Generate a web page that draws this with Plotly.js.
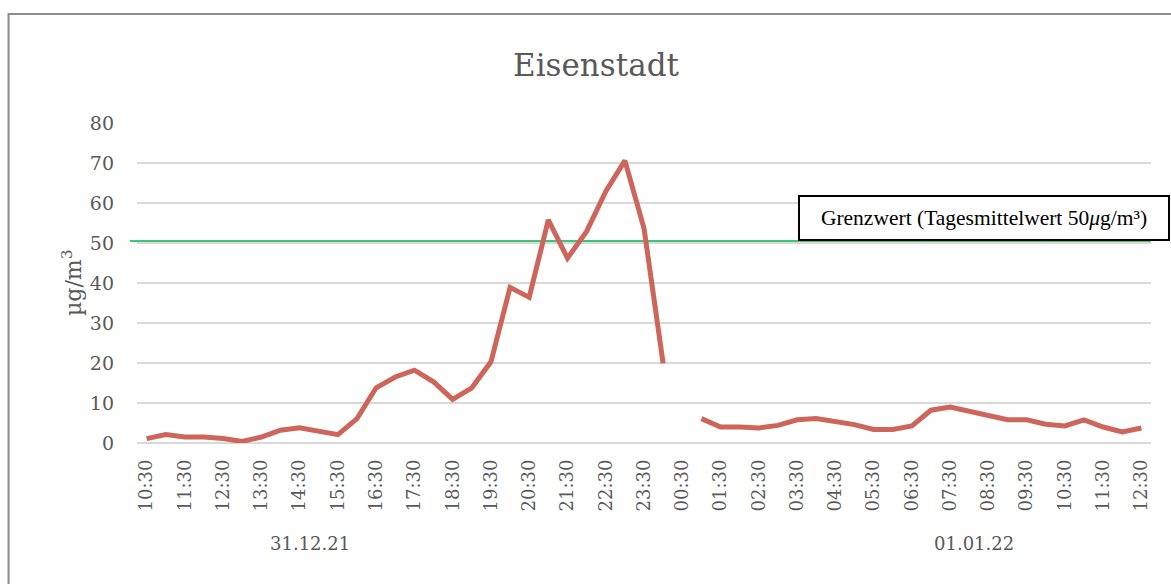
<!DOCTYPE html>
<html>
<head>
<meta charset="utf-8">
<script src="https://cdn.plot.ly/plotly-3.0.1.min.js"></script>
<style>
  html, body { margin: 0; padding: 0; background: #fff; }
  #chart { width: 1171px; height: 584px; }
</style>
</head>
<body>
<div id="chart"></div>
<script>
// Halbstundenwerte Feinstaub Eisenstadt, 31.12.21 10:30 bis 01.01.22 12:30
var zeiten = ['10:30','11:00','11:30','12:00','12:30','13:00','13:30','14:00','14:30','15:00',
              '15:30','16:00','16:30','17:00','17:30','18:00','18:30','19:00','19:30','20:00',
              '20:30','21:00','21:30','22:00','22:30','23:00','23:30','00:00','00:30','01:00',
              '01:30','02:00','02:30','03:00','03:30','04:00','04:30','05:00','05:30','06:00',
              '06:30','07:00','07:30','08:00','08:30','09:00','09:30','10:00','10:30','11:00',
              '11:30','12:00','12:30']
var werte = [1.1, 2.1, 1.5, 1.5, 1.1, 0.4, 1.5, 3.2, 3.8, 3.0,
             2.1, 6.1, 13.8, 16.5, 18.2, 15.3, 10.9, 13.8, 20.3, 38.9,
             36.4, 55.8, 46.2, 52.9, 62.9, 70.6, 53.7, 19.9, null, 6.1,
             4.0, 4.0, 3.75, 4.4, 5.8, 6.1, 5.25, 4.6, 3.4, 3.4,
             4.25, 8.2, 9.0, 7.9, 6.7, 5.8, 5.8, 4.7, 4.25, 5.8,
             4.0, 2.75, 3.75]
var tage = ['31.12.21', '01.01.22']
var grenzwert = 50.5   // Lage der gruenen Linie im Bild
var grenzText = 'Grenzwert (Tagesmittelwert 50<i>μ</i>g/m³)'

var grau = '#595959'
var schrift = 'DejaVu Serif, serif'

var idx = []
for (let i = 0; i < zeiten.length; i++) { idx.push(i) }
// nur jede zweite Zeit beschriften
var tickvals = idx.filter(i => i % 2 === 0)
var ticktext = tickvals.map(i => zeiten[i])

var data = [{
    x: idx,
    y: werte,
    text: zeiten,
    type: 'scatter',
    mode: 'lines',
    connectgaps: false,
    line: { color: 'rgb(205,101,91)', width: 5 },
    hoverinfo: 'text+y',
    showlegend: false
}]

var layout = {
    width: 1171,
    height: 584,
    margin: { l: 137, r: 20, t: 123, b: 141 },
    paper_bgcolor: '#fff',
    plot_bgcolor: '#fff',
    title: {
        text: 'Eisenstadt',
        font: { family: schrift, size: 31, color: grau },
        xref: 'container', x: 0.509, xanchor: 'center',
        yref: 'container', y: 0.889, yanchor: 'middle'
    },
    xaxis: {
        range: [-0.5, zeiten.length - 0.5],
        tickmode: 'array',
        tickvals: tickvals,
        ticktext: ticktext,
        tickangle: -90,
        ticks: '',
        ticklabelstandoff: 12,
        showgrid: false,
        zeroline: false,
        showline: false,
        tickfont: { family: schrift, size: 18, color: grau }
    },
    yaxis: {
        range: [0, 80],
        dtick: 10,
        ticks: '',
        ticklabelstandoff: 22,
        showgrid: true,
        gridcolor: '#d9d9d9',
        gridwidth: 1.5,
        zeroline: true,
        zerolinecolor: '#d9d9d9',
        zerolinewidth: 1.5,
        showline: false,
        tickfont: { family: schrift, size: 19, color: grau }
    },
    shapes: [
        { // Rahmen des Diagramms
            type: 'rect', xref: 'paper', yref: 'paper',
            x0: -0.1267, x1: 1.3, y0: 1.3406, y1: -0.6,
            line: { color: '#8c8c8c', width: 2 },
            fillcolor: 'rgba(0,0,0,0)',
            layer: 'below'
        },
        { // Grenzwert
            type: 'line', xref: 'paper', yref: 'y',
            x0: -0.0069, x1: 1, y0: grenzwert, y1: grenzwert,
            line: { color: '#00b050', width: 1.5 },
            layer: 'below'
        }
    ],
    annotations: [
        {
            text: 'µg/m<sup>3</sup>',
            xref: 'paper', yref: 'paper',
            x: -0.0641, y: 0.5,
            xanchor: 'center', yanchor: 'middle',
            textangle: -90,
            showarrow: false,
            font: { family: schrift, size: 22, color: grau }
        },
        {
            text: tage[0],
            xref: 'paper', yref: 'paper',
            x: 0.1711, y: -0.3125,
            xanchor: 'center', yanchor: 'middle',
            showarrow: false,
            font: { family: schrift, size: 18, color: grau }
        },
        {
            text: tage[1],
            xref: 'paper', yref: 'paper',
            x: 0.8254, y: -0.3125,
            xanchor: 'center', yanchor: 'middle',
            showarrow: false,
            font: { family: schrift, size: 18, color: grau }
        },
        {
            text: grenzText,
            xref: 'paper', yref: 'paper',
            x: 0.6519, y: 0.775,
            xanchor: 'left', yanchor: 'top',
            width: 366, height: 40,
            align: 'center',
            bgcolor: '#fff',
            bordercolor: '#000',
            borderwidth: 2,
            borderpad: 1,
            showarrow: false,
            font: { family: 'Liberation Serif, Times New Roman, serif', size: 21.5, color: '#000' }
        }
    ]
}

var options = { displayModeBar: false, staticPlot: true }

Plotly.newPlot('chart', data, layout, options)
</script>
</body>
</html>
